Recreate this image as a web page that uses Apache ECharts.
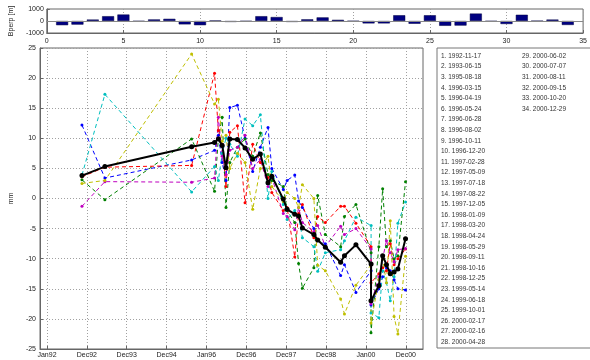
<!DOCTYPE html>
<html>
<head>
<meta charset="utf-8">
<script src="https://cdn.jsdelivr.net/npm/echarts@6/dist/echarts.min.js"></script>
<style>
html, body { margin: 0; padding: 0; background: #fff; }
#main { width: 590px; height: 360px; }
</style>
</head>
<body>
<div id="main"></div>
<script>
// acquisition dates (legend list, also x positions)
const dates = ['1992-11-17', '1993-06-15', '1995-08-18', '1996-03-15', '1996-04-19', '1996-05-24',
  '1996-06-28', '1996-08-02', '1996-10-11', '1996-12-20', '1997-02-28', '1997-05-09', '1997-07-18',
  '1997-08-22', '1997-12-05', '1998-01-09', '1998-03-20', '1998-04-24', '1998-05-29', '1998-09-11',
  '1998-10-16', '1998-12-25', '1999-05-14', '1999-06-18', '1999-10-01', '2000-02-17', '2000-02-16',
  '2000-04-28', '2000-06-02', '2000-07-07', '2000-08-11', '2000-09-15', '2000-10-20', '2000-12-29']

// perpendicular baseline per image [m]
const bperp = [-350, -300, 120, 400, 540, -30, 130, 180, -280, -350, 30, -80, -30, 400, 330, -80, 140,
  300, 100, -20, -200, -200, 480, -230, 480, -400, -380, 620, -30, -250, 520, 0, 120, -330]

// displacement [mm]
const meanDisp = [3.8, 5.3, 8.6, 9.3, 9.9, 8.8, 5.1, 9.9, 9.8, 8.4, 6.5, 7.4, 2.6, 3.7, -0.1, -1.8, -2.6,
  -2.9, -4.9, -6.0, -6.9, -8.1, -10.6, -9.5, -7.7, -10.9, -17.0, -14.5, -9.5, -11.0, -12.5, -12.2, -11.7, -6.7]
const blueDisp = [12.2, 3.4, 6.4, 8.0, 10.5, 6.0, 3.0, 15.1, 15.5, 10.0, 4.5, 8.5, 11.8, 5.0, 1.5, 3.0, 3.9,
  -0.4, -1.5, -5.0, -7.0, -7.5, -12.8, -11.0, -15.6, -12.0, -17.7, -15.0, -13.0, -11.5, -12.0, -13.5, -15.0, -15.2]
const greenDisp = [3.1, -0.2, 9.9, 1.2, 10.0, 13.5, -1.5, 6.0, 8.5, 9.9, 7.0, 10.9, 4.0, 3.0, 2.0, -2.0, -4.0,
  -10.8, -14.9, -11.5, 0.5, -6.0, -8.0, -3.0, -1.0, -9.0, -22.3, -8.0, 1.6, -8.0, -7.0, -10.0, -9.5, 2.8]
const redDisp = [3.6, 5.2, 5.5, 20.8, 11.3, 9.0, 2.0, 11.0, 12.1, -0.7, 9.0, 6.0, 3.5, 1.0, -2.0, -1.5, -9.7,
  -2.5, -1.0, -6.5, -3.0, -4.0, -1.3, -1.3, -4.1, -8.0, -14.0, -12.5, -11.5, -12.0, -7.5, -11.0, -10.0, -8.4]
const cyanDisp = [3.9, 17.3, 1.1, 5.3, 3.0, 7.5, 10.0, 9.0, 7.0, 13.2, 12.1, 13.9, 0.0, 4.5, -1.0, -3.5, -2.0,
  -3.0, -6.5, -8.0, -12.1, -9.0, -8.5, -7.0, -3.1, -4.5, -19.0, -19.8, -12.0, -14.0, -17.0, -13.0, -4.1, -0.6]
const magentaDisp = [-1.3, 2.8, 2.7, 3.4, 13.5, 7.0, 4.0, 8.0, 8.5, 10.5, 5.0, 6.5, 2.0, 3.5, -2.5, -3.0, -5.2,
  -1.5, -4.0, -5.5, -4.5, -8.0, -4.6, -6.0, -5.0, -8.4, -17.5, -13.0, -10.0, -7.0, -9.0, -10.5, -8.5, -8.3]
const yellowDisp = [2.5, 3.0, 24.0, 15.7, 16.5, 9.5, 10.5, 5.0, 7.5, 6.0, -1.8, 5.0, 7.0, 2.0, -0.5, 1.0, 0.0,
  -1.5, 2.3, 0.0, -11.1, -12.0, -16.7, -19.2, -14.4, -11.0, -20.7, -13.5, -10.0, -14.0, -3.7, -19.6, -22.5, -9.6]

const xTickValues = [1992, 1993, 1994, 1995, 1996, 1997, 1998, 1999, 2000, 2001]
const xTickLabels = ['Jan92', 'Dec92', 'Dec93', 'Dec94', 'Jan96', 'Dec96', 'Dec97', 'Dec98', 'Jan00', 'Dec00']

function decYear(s) {
    const p = s.split('-').map(Number)
    const start = Date.UTC(p[0], 0, 1)
    const end = Date.UTC(p[0] + 1, 0, 1)
    return p[0] + (Date.UTC(p[0], p[1] - 1, p[2]) - start) / (end - start)
}
const xs = dates.map(decYear)

const font = '"Liberation Sans", Arial, sans-serif'
const labelColor = '#222'
const gridLine = { show: true, lineStyle: { color: '#a0a0a0', type: [1, 2], width: 1 } }

function dashed(name, values, color) {
    return {
        name: name,
        type: 'line',
        xAxisIndex: 1,
        yAxisIndex: 1,
        data: values.map((v, i) => [xs[i], v]),
        symbol: 'circle',
        symbolSize: 3,
        itemStyle: { color: color },
        lineStyle: { color: color, width: 1, type: [4, 3] },
        z: 3
    }
}

// legend list as text
const listItems = [{
    type: 'rect',
    shape: { x: 437, y: 48, width: 170, height: 300 },
    style: { fill: '#fff', stroke: '#777', lineWidth: 1 }
}]
dates.forEach((d, i) => {
    const col = i < 28 ? 0 : 1
    const row = i < 28 ? i : i - 28
    listItems.push({
        type: 'text',
        x: col === 0 ? 441 : 522,
        y: 56 + row * 10.6,
        style: { text: (i + 1) + '. ' + d, font: '6.5px ' + font, fill: '#333', verticalAlign: 'middle' }
    })
})

const chart = echarts.init(document.getElementById('main'))
chart.setOption({
    animation: false,
    backgroundColor: '#fff',
    grid: [
        { left: 38, top: 9, width: 553, height: 24, show: true, borderColor: '#666', borderWidth: 1 },
        { left: 38, top: 48, width: 385, height: 301, show: true, borderColor: '#666', borderWidth: 1 }
    ],
    xAxis: [
        {
            gridIndex: 0, type: 'value', min: 0, max: 35, interval: 5,
            axisLine: { show: true, onZero: false, lineStyle: { color: '#666' } },
            axisTick: { inside: true, length: 3, lineStyle: { color: '#666' } },
            axisLabel: { fontSize: 7, color: labelColor, margin: 5, fontFamily: font },
            splitLine: gridLine
        },
        {
            gridIndex: 1, type: 'value', min: 1991.825, max: 2001.43,
            axisLine: { show: true, onZero: false, lineStyle: { color: '#666' } },
            axisTick: { inside: true, length: 3, customValues: xTickValues, lineStyle: { color: '#666' } },
            axisLabel: {
                customValues: xTickValues,
                fontSize: 7, color: labelColor, margin: 3, fontFamily: font,
                formatter: v => xTickLabels[xTickValues.indexOf(Math.round(v))]
            },
            splitLine: gridLine
        }
    ],
    yAxis: [
        {
            gridIndex: 0, type: 'value', min: -1000, max: 1000, interval: 1000,
            name: 'Bperp [m]', nameLocation: 'middle', nameGap: 26, nameRotate: 90,
            nameTextStyle: { fontSize: 7, color: labelColor, fontFamily: font },
            axisLine: { show: true, onZero: false, lineStyle: { color: '#666' } },
            axisTick: { inside: true, length: 3 },
            axisLabel: { fontSize: 7, color: labelColor, margin: 3, fontFamily: font, formatter: v => String(v) },
            splitLine: { show: false }
        },
        {
            gridIndex: 1, type: 'value', min: -25, max: 25, interval: 5,
            name: 'mm', nameLocation: 'middle', nameGap: 16, nameRotate: 90,
            nameTextStyle: { fontSize: 7, color: labelColor, fontFamily: font },
            axisLine: { show: true, onZero: false, lineStyle: { color: '#666' } },
            axisTick: { inside: true, length: 3 },
            axisLabel: { fontSize: 7, color: labelColor, margin: 4, fontFamily: font },
            splitLine: gridLine
        }
    ],
    graphic: listItems,
    series: [
        {
            name: 'Bperp',
            type: 'bar',
            xAxisIndex: 0,
            yAxisIndex: 0,
            data: bperp.map((v, i) => [i + 1, v]),
            barWidth: 12,
            itemStyle: { color: '#000080', borderColor: '#000040', borderWidth: 0.5 },
            markLine: {
                silent: true,
                symbol: 'none',
                label: { show: false },
                lineStyle: { color: '#888', type: 'solid', width: 1 },
                data: [{ yAxis: 0 }]
            }
        },
        dashed('blue', blueDisp, '#0000ff'),
        dashed('green', greenDisp, '#008000'),
        dashed('red', redDisp, '#ff0000'),
        dashed('cyan', cyanDisp, '#00bfbf'),
        dashed('magenta', magentaDisp, '#bf00bf'),
        dashed('yellow', yellowDisp, '#bfbf00'),
        {
            name: 'mean',
            type: 'line',
            xAxisIndex: 1,
            yAxisIndex: 1,
            data: meanDisp.map((v, i) => [xs[i], v]),
            symbol: 'circle',
            symbolSize: 5,
            itemStyle: { color: '#000' },
            lineStyle: { color: '#000', width: 2 },
            z: 5
        }
    ]
})
</script>
</body>
</html>
